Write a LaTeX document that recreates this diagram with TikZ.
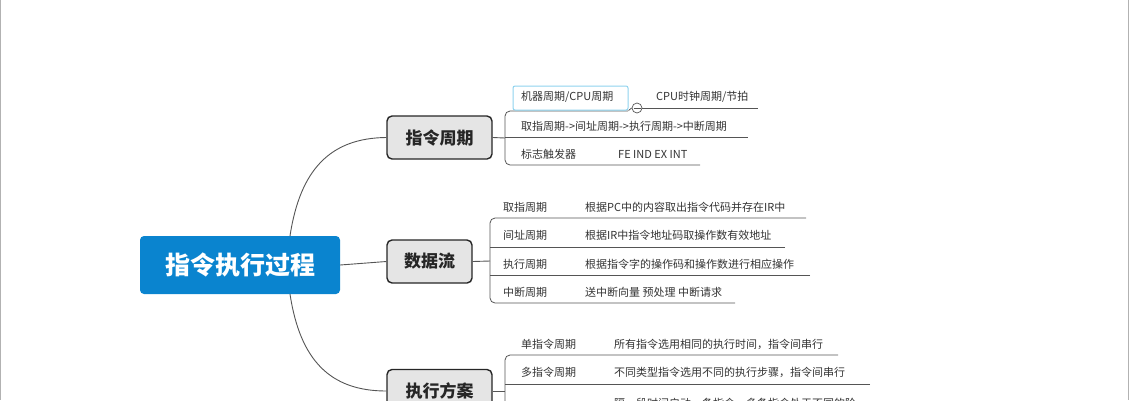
\documentclass[tikz,border=0pt]{standalone}
\usepackage{fontspec}
\setmainfont{Noto Sans CJK SC}
\definecolor{rootblue}{HTML}{0A84CF}
\definecolor{txt}{HTML}{333333}
\definecolor{ln}{HTML}{555555}
\definecolor{hl}{HTML}{8FD3EE}
\begin{document}
\begin{tikzpicture}[x=1pt,y=-1pt,
  lbl/.style={anchor=west,inner sep=0pt,text=txt,font=\fontsize{11}{12}\selectfont},
  branch/.style={draw=black!85,line width=1.4pt,fill=black!10,rounded corners=5pt,inner sep=0pt,font=\fontsize{17}{18}\selectfont\bfseries,text=black!85},
  con/.style={draw=ln,line width=0.9pt},
  und/.style={draw=ln,line width=0.8pt}]
\path[use as bounding box] (0,0) rectangle (1129,400);
\begin{scope}
\clip (0,0) rectangle (1129,400);
\draw[gray!60] (0.5,0) -- (0.5,400) (1128.5,0) -- (1128.5,400);
% root
\node[fill=rootblue,rounded corners=4pt,minimum width=200pt,minimum height=58pt,text=white,font=\fontsize{25}{26}\selectfont\bfseries] (root) at (240,265) {指令执行过程};
\node[branch,minimum width=105pt,minimum height=43pt] (b1) at (439.5,137.5) {指令周期};
\node[branch,minimum width=85pt,minimum height=43pt] (b2) at (429.5,261.5) {数据流};
\node[branch,minimum width=105pt,minimum height=43pt] (b3) at (439.5,391) {执行方案};
\draw[con] (290,236) .. controls (300,170) and (330,138) .. (b1.west);
\draw[con] (290,294) .. controls (300,360) and (330,391) .. (b3.west);
\draw[con] (root.east) -- (b2.west);
% branch 1
\coordinate (k1) at (505,138);
\draw[con] (b1.east) -- (k1);
\draw[und,rounded corners=5pt] (628,111) -- (505,111) -- (505,165) -- (700,165);
\draw[und] (505,137) -- (748,137);
\node[draw=hl,line width=1pt,rounded corners=2pt,minimum width=115pt,minimum height=24pt,inner sep=0pt] (h1) at (570.5,98) {};
\node[lbl] (t11) at (521,97) {机器周期/CPU周期};
\node[lbl] (t12) at (656,97) {CPU时钟周期/节拍};
\node[draw=ln,line width=0.7pt,circle,minimum size=10pt,inner sep=0pt,fill=white] (c1) at (637,108) {};
\draw[ln,line width=0.7pt] (633.5,108) -- (640.5,108);
\draw[und] (h1.south east) -- (c1.west);
\draw[und] (c1.east) -- (758,108);
\node[lbl] (t21) at (521,126) {取指周期->间址周期->执行周期->中断周期};
\node[lbl] (t31) at (521,154) {标志触发器};
\node[lbl] (t32) at (618,154) {FE IND EX INT};
% branch 2
\coordinate (k2) at (490,261);
\draw[con] (b2.east) -- (k2);
\draw[und,rounded corners=5pt] (806,218) -- (490,218) -- (490,303) -- (735,303);
\draw[und,rounded corners=5pt] (785,247) -- (490,247);
\draw[und,rounded corners=5pt] (810,275) -- (490,275);
\node[lbl] at (503,207) {取指周期};
\node[lbl] at (585,207) {根据PC中的内容取出指令代码并存在IR中};
\node[lbl] at (503,235) {间址周期};
\node[lbl] at (585,235) {根据IR中指令地址码取操作数有效地址};
\node[lbl] at (503,264) {执行周期};
\node[lbl] at (585,264) {根据指令字的操作码和操作数进行相应操作};
\node[lbl] at (503,292) {中断周期};
\node[lbl] at (585,292) {送中断向量 预处理 中断请求};
% branch 3
\coordinate (k3) at (505,391);
\draw[con] (b3.east) -- (k3);
\draw[und,rounded corners=5pt] (838,355) -- (505,355) -- (505,420);
\draw[und,rounded corners=5pt] (870,384) -- (505,384);
\node[lbl] at (521,344) {单指令周期};
\node[lbl] at (614,344) {所有指令选用相同的执行时间，指令间串行};
\node[lbl] at (521,372) {多指令周期};
\node[lbl] at (614,372) {不同类型指令选用不同的执行步骤，指令间串行};
\node[lbl] at (614,403) {隔一段时间启动一条指令，多条指令处于不同的阶};
\end{scope}
\end{tikzpicture}
\end{document}
